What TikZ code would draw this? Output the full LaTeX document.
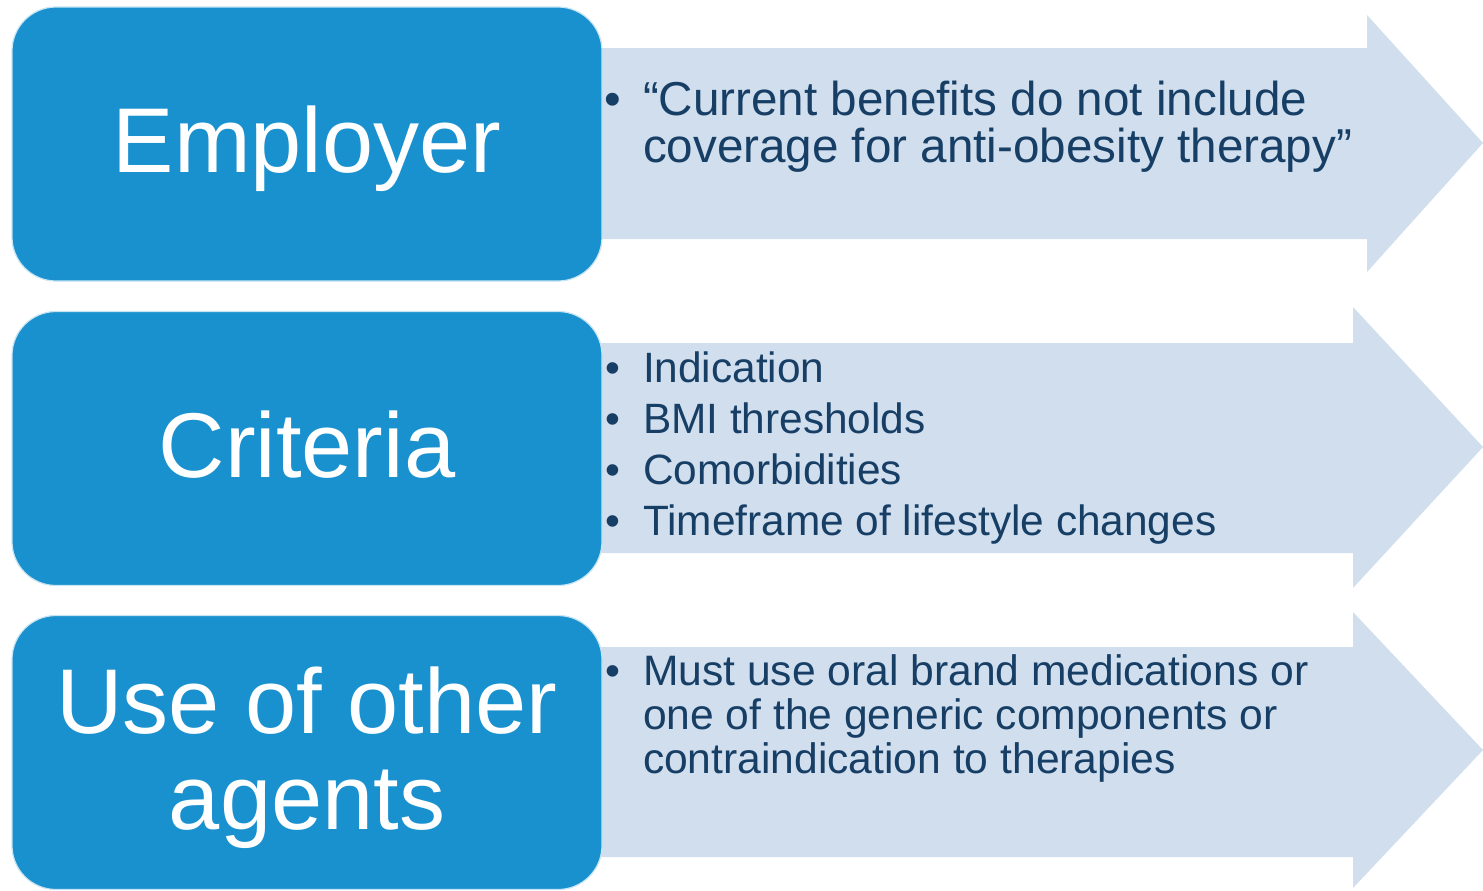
\documentclass[tikz,border=0pt]{standalone}
\usepackage{fontspec}
\setmainfont{Liberation Sans}

\definecolor{boxblue}{HTML}{1A91CF}
\definecolor{arrowfill}{HTML}{D0DEED}
\definecolor{textnavy}{HTML}{173E65}

\begin{document}
\begin{tikzpicture}[x=0.5pt, y=-0.5pt, every node/.style={inner sep=0pt, outer sep=0pt},
	panel/.style={rectangle, rounded corners=22pt, fill=boxblue, draw=white!75!boxblue, line width=0.6pt, minimum width=295pt, minimum height=137pt},
	boxtitle/.style={anchor=base, text=white, font=\fontsize{46}{48}\selectfont},
	bulletmark/.style={anchor=base, text=textnavy},
	itemtext/.style={anchor=base west, text=textnavy}]
		\clip (0,0) rectangle (1483,890);
		%Arrows
		\fill[arrowfill] (590,48) -- (1367,48) -- (1367,15) -- (1483,143) -- (1367,272) -- (1367,239) -- (590,239) -- cycle;
		\fill[arrowfill] (590,343) -- (1353,343) -- (1353,307) -- (1483,447) -- (1353,588) -- (1353,553) -- (590,553) -- cycle;
		\fill[arrowfill] (590,647) -- (1353,647) -- (1353,612) -- (1483,750) -- (1353,888) -- (1353,857) -- (590,857) -- cycle;
		%Boxes
		\node [panel] (employer) at (307,144) {};
		\node [panel] (criteria) at (307,448.5) {};
		\node [panel] (agents) at (307,752.5) {};
		\node [boxtitle] (employertitle) at (307,172) {Employer};
		\node [boxtitle] (criteriatitle) at (307,477) {Criteria};
		\node [boxtitle] (agentstitle1) at (307,733) {Use of other};
		\node [boxtitle] (agentstitle2) at (307,829) {agents};
		%Employer items
		\node [bulletmark, font=\fontsize{23.8}{24}\selectfont] (eb1) at (613,115) {•};
		\node [itemtext, font=\fontsize{23.8}{24}\selectfont] (e1a) at (643,115) {“Current benefits do not include};
		\node [itemtext, font=\fontsize{23.8}{24}\selectfont] (e1b) at (643,162) {coverage for anti-obesity therapy”};
		%Criteria items
		\node [bulletmark, font=\fontsize{21.2}{22}\selectfont] (cb1) at (613,382) {•};
		\node [bulletmark, font=\fontsize{21.2}{22}\selectfont] (cb2) at (613,433) {•};
		\node [bulletmark, font=\fontsize{21.2}{22}\selectfont] (cb3) at (613,484) {•};
		\node [bulletmark, font=\fontsize{21.2}{22}\selectfont] (cb4) at (613,535) {•};
		\node [itemtext, font=\fontsize{21.2}{22}\selectfont] (c1) at (643,382) {Indication};
		\node [itemtext, font=\fontsize{21.2}{22}\selectfont] (c2) at (643,433) {BMI thresholds};
		\node [itemtext, font=\fontsize{21.2}{22}\selectfont] (c3) at (643,484) {Comorbidities};
		\node [itemtext, font=\fontsize{21.2}{22}\selectfont] (c4) at (643,535) {Timeframe of lifestyle changes};
		%Other agents items
		\node [bulletmark, font=\fontsize{21.3}{22}\selectfont] (ab1) at (613,685) {•};
		\node [itemtext, font=\fontsize{21.3}{22}\selectfont] (a1a) at (643,685) {Must use oral brand medications or};
		\node [itemtext, font=\fontsize{21.3}{22}\selectfont] (a1b) at (643,729) {one of the generic components or};
		\node [itemtext, font=\fontsize{21.3}{22}\selectfont] (a1c) at (643,773) {contraindication to therapies};
\end{tikzpicture}
\end{document}
